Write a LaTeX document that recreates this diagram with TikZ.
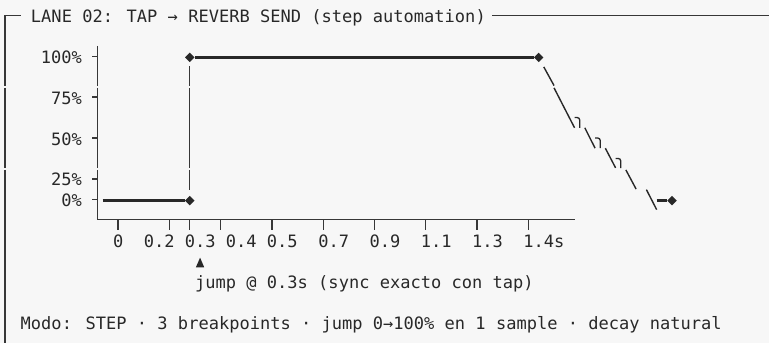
\documentclass[tikz,border=0pt]{standalone}
\usepackage{fontspec}
\newfontfamily\mono{DejaVu Sans Mono}
\usetikzlibrary{shapes.geometric}
\definecolor{bg}{RGB}{247,247,247}
\definecolor{ink}{RGB}{40,40,40}
\definecolor{ln}{RGB}{55,55,55}
\begin{document}
\begin{tikzpicture}[x=1pt,y=-1pt,
  txt/.style={font=\mono\fontsize{17.04}{20}\selectfont, text=ink, inner sep=0pt, anchor=base west},
  rtxt/.style={txt, anchor=base east},
  light/.style={draw=ln, line width=1.3pt},
  heavy/.style={draw=ink, line width=2.7pt},
  diag/.style={draw=ink, line width=1.4pt},
  hook/.style={draw=ink, line width=1.3pt, rounded corners=2.5pt},
  dia/.style={diamond, fill=ink, inner sep=0pt, minimum width=9.6pt, minimum height=9.6pt}]
\fill[bg] (0,0) rectangle (769,343);
\useasboundingbox (0,0) rectangle (769,343);

% frame
\coordinate (fa) at (5.13,15.3);
\coordinate (fb) at (20.52,15.3);
\coordinate (fc) at (492.48,15.3);
\coordinate (fd) at (769,15.3);
\draw[light] (fb) -- (fa) -- (5.13,85.6);
\draw[light] (5.13,87.9) -- (5.13,167.9);
\draw[light] (5.13,169.9) -- (5.13,343);
\draw[light] (fc) -- (fd);
\node[txt] (title) at (30.78,22.3) {LANE 02: TAP → REVERB SEND (step automation)};

% y axis
\draw[light] (97.47,45.98) -- (97.47,85.6);
\draw[light] (97.47,87.9) -- (97.47,167.9);
\coordinate (origin) at (97.47,219.8);
\coordinate (xend) at (574.56,219.8);
\draw[light] (97.47,169.9) -- (origin) -- (xend);
\foreach \yy/\nm in {56.2/a,97.1/b,138.0/c,178.9/d,199.35/e}
  \draw[light] (92.34,\yy) -- (97.47,\yy);
\node[rtxt] (l100) at (82.08,63.2) {100\%};
\node[rtxt] (l75) at (82.08,104.1) {75\%};
\node[rtxt] (l50) at (82.08,145.0) {50\%};
\node[rtxt] (l25) at (82.08,185.9) {25\%};
\node[rtxt] (l0) at (82.08,206.35) {0\%};

% x axis ticks
\foreach \xx in {117.99,169.29,189.81,220.59,271.89,323.19,374.49,425.79,477.09,528.39}
  \draw[light] (\xx,219.8) -- (\xx,230.0);
\node[txt] (t0) at (112.86,247.1) {0};
\node[txt] (t02) at (143.64,247.1) {0.2};
\node[txt] (t03) at (184.68,247.1) {0.3};
\node[txt] (t04) at (225.72,247.1) {0.4};
\node[txt] (t05) at (266.76,247.1) {0.5};
\node[txt] (t07) at (318.06,247.1) {0.7};
\node[txt] (t09) at (369.36,247.1) {0.9};
\node[txt] (t11) at (420.66,247.1) {1.1};
\node[txt] (t13) at (471.96,247.1) {1.3};
\node[txt] (t14) at (523.26,247.1) {1.4s};

% curve
\node[dia] (d0) at (189.81,200.6) {};
\node[dia] (d1) at (189.81,57.4) {};
\node[dia] (d2) at (538.65,57.4) {};
\node[dia] (d3) at (672.03,200.6) {};
\coordinate (z0) at (102.6,200.6);
\draw[heavy] (z0) -- (d0.west);
\draw[heavy] (d1.east) -- (d2.west);
\draw[light] (189.81,66.4) -- (189.81,85.6);
\draw[light] (189.81,87.9) -- (189.81,167.9);
\draw[light] (189.81,169.9) -- (189.81,189.6);

% decay
\draw[diag] (543.78,66.9) -- (554.04,85.6);
\draw[diag] (554.04,87.9) -- (574.56,127.8);
\draw[hook] (574.56,117.55) -| (579.69,127.8);
\draw[diag] (584.82,127.8) -- (595.08,148.2);
\draw[hook] (595.08,138.0) -| (600.21,148.2);
\draw[diag] (605.34,148.2) -- (615.6,167.9);
\draw[hook] (615.6,158.45) -| (620.73,168.2);
\draw[diag] (625.86,169.9) -- (636.12,189.1);
\draw[diag] (646.38,189.6) -- (656.64,209.6);
\coordinate (z3) at (656.64,200.6);
\draw[heavy] (z3) -- (d3.west);

% annotation
\fill[ink] (195.9,267.3) -- (204.2,267.3) -- (200.07,257.6) -- cycle;
\node[txt] (jump) at (194.94,288.1) {jump @ 0.3s (sync exacto con tap)};
\node[txt] (modo) at (20.52,329.0) {Modo: STEP · 3 breakpoints · jump 0→100\% en 1 sample · decay natural};
\end{tikzpicture}
\end{document}
